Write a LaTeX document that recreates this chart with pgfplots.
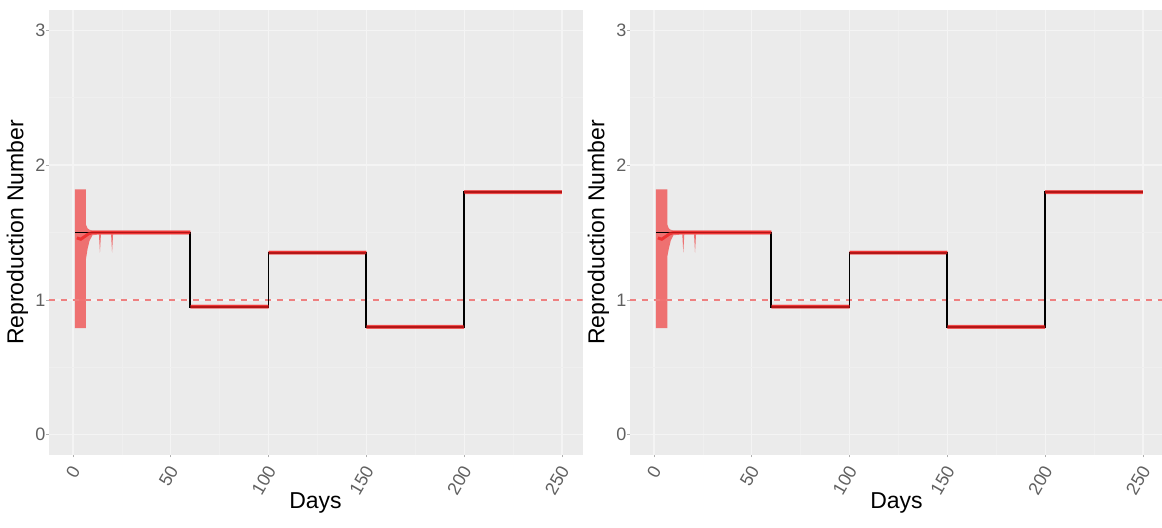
\documentclass[border=0pt]{standalone}
\usepackage{pgfplots}
\pgfplotsset{compat=1.18}
\usepgfplotslibrary{fillbetween}
\usepackage{pgfplotstable}
\usepackage{fontspec}
\setmainfont{Liberation Sans}
\definecolor{panelbg}{HTML}{EBEBEB}
\definecolor{gridmaj}{HTML}{F4F4F4}
\definecolor{gridmin}{HTML}{EFEFEF}
\definecolor{tickgray}{HTML}{606060}
\definecolor{estred}{HTML}{F02020}
\definecolor{dashred}{HTML}{EE8080}

\pgfplotstableread{
x lo hi
1 0.79 1.82
6.6 0.79 1.82
6.61 1.30 1.56
7.5 1.38 1.53
8.5 1.44 1.52
10 1.48 1.515
13.3 1.485 1.515
13.8 1.35 1.515
14.3 1.485 1.515
19.5 1.485 1.515
20 1.35 1.515
20.5 1.485 1.515
60 1.485 1.515
60 0.935 0.965
100 0.935 0.965
100 1.335 1.365
150 1.335 1.365
150 0.785 0.815
200 0.785 0.815
200 1.785 1.815
250 1.785 1.815
}\ribbonA

\pgfplotstableread{
x lo hi
1 0.79 1.82
6.8 0.79 1.82
6.81 1.32 1.56
7.6 1.38 1.53
8.6 1.44 1.52
10 1.48 1.515
14.5 1.485 1.515
15 1.35 1.515
15.5 1.485 1.515
20.5 1.485 1.515
21 1.35 1.515
21.5 1.485 1.515
60 1.485 1.515
60 0.935 0.965
100 0.935 0.965
100 1.335 1.365
150 1.335 1.365
150 0.785 0.815
200 0.785 0.815
200 1.785 1.815
250 1.785 1.815
}\ribbonB

\pgfplotstableread{
x y
1 1.5
60 1.5
60 0.95
100 0.95
100 1.35
150 1.35
150 0.8
200 0.8
200 1.8
250 1.8
}\truth

\pgfplotstableread{
x y
2 1.46
4 1.45
6 1.47
8 1.49
10 1.5
60 1.5
60 nan
60 0.95
100 0.95
100 nan
100 1.35
150 1.35
150 nan
150 0.8
200 0.8
200 nan
200 1.8
250 1.8
}\estim

\pgfplotsset{
  rplot/.style={
    scale only axis,
    width=267pt, height=222.5pt,
    anchor=south west,
    xmin=-12.5, xmax=260.5,
    ymin=-0.15, ymax=3.15,
    xtick={0,50,100,150,200,250},
    ytick={0,1,2,3},
    minor x tick num=1,
    minor y tick num=1,
    grid=both,
    major grid style={gridmaj, line width=0.6pt},
    minor grid style={gridmin, line width=0.3pt},
    axis background/.style={fill=panelbg},
    axis line style={draw=none},
    tick align=outside,
    tick pos=left,
    major tick length=1.2pt,
    minor tick length=0pt,
    tick style={tickgray!50, line width=0.3pt},
    unbounded coords=jump,
    ticklabel style={font=\fontsize{9}{10}\selectfont, text=tickgray},
    yticklabel style={xshift=3.2pt},
    xticklabel style={xshift=3.1pt, yshift=-1.9pt, rotate=60, anchor=east},
    xlabel={Days},
    ylabel={Reproduction Number},
    label style={font=\fontsize{11.5}{13}\selectfont, text=black},
    xlabel style={at={(axis description cs:0.5,0)}, anchor=center, yshift=-24pt},
    ylabel style={at={(axis description cs:0,0.5)}, anchor=center, yshift=15.5pt},
    /pgf/number format/assume math mode=true,
  }
}

\begin{document}
\begin{tikzpicture}
\begin{axis}[rplot, at={(24.25pt,36.5pt)}]
  \addplot[dashred, line width=1.3pt, dash pattern=on 3pt off 3pt] coordinates {(-12.5,1) (262.5,1)};
  \addplot[name path=upA, draw=none, forget plot] table[x=x, y=hi] {\ribbonA};
  \addplot[name path=loA, draw=none, forget plot] table[x=x, y=lo] {\ribbonA};
  \addplot[estred, fill opacity=0.6, draw=none] fill between[of=upA and loA];
  \addplot[black, line width=0.9pt] table[x=x, y=y] {\truth};
  \addplot[estred, line width=1.5pt, opacity=0.75] table[x=x, y=y] {\estim};
\end{axis}

\begin{axis}[rplot, at={(314.75pt,36.5pt)}]
  \addplot[dashred, line width=1.3pt, dash pattern=on 3pt off 3pt] coordinates {(-12.5,1) (262.5,1)};
  \addplot[name path=upB, draw=none, forget plot] table[x=x, y=hi] {\ribbonB};
  \addplot[name path=loB, draw=none, forget plot] table[x=x, y=lo] {\ribbonB};
  \addplot[estred, fill opacity=0.6, draw=none] fill between[of=upB and loB];
  \addplot[black, line width=0.9pt] table[x=x, y=y] {\truth};
  \addplot[estred, line width=1.5pt, opacity=0.75] table[x=x, y=y] {\estim};
\end{axis}
\pgfresetboundingbox
\path[use as bounding box] (0,0) rectangle (581pt,264pt);
\end{tikzpicture}
\end{document}
